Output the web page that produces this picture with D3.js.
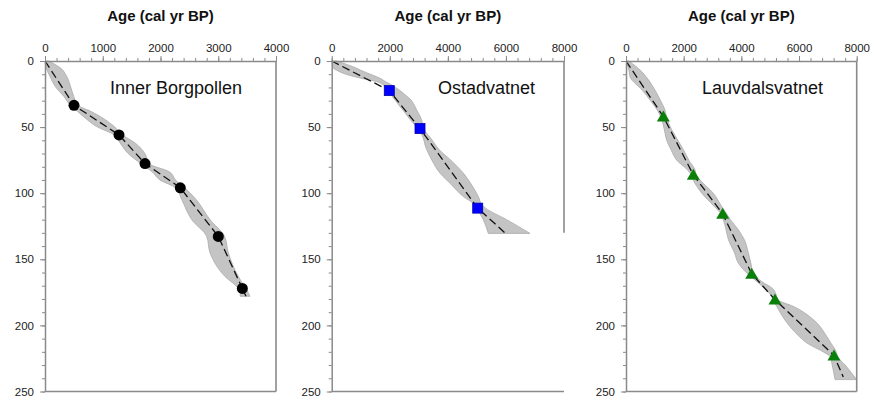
<!DOCTYPE html>
<html>
<head>
<meta charset="utf-8">
<script src="https://cdn.jsdelivr.net/npm/d3@7"></script>
<style>
  body { margin: 0; background: #fff; }
  svg { display: block; font-family: "Liberation Sans", Arial, sans-serif; }
</style>
</head>
<body>
<div id="chart"></div>
<script>
// ---- data ----
const siteNames = ["Inner Borgpollen", "Ostadvatnet", "Lauvdalsvatnet"];
const ageMaxes = [4000, 8000, 8000];
const ageTicks = [[0, 1000, 2000, 3000, 4000], [0, 2000, 4000, 6000, 8000], [0, 2000, 4000, 6000, 8000]];
const depthTicks = [0, 50, 100, 150, 200, 250];

// dated levels (markers)
const datedDepth = [
  [33.5, 55.9, 77.6, 95.9, 132.7, 172],
  [22.4, 51.1, 111.3],
  [42, 86.1, 115.6, 160.9, 180.5, 222.8]
];
const datedAge = [
  [502, 1281, 1732, 2343, 3001, 3417],
  [1983, 3041, 5028],
  [1294, 2334, 3352, 4358, 5166, 7212]
];

// age-depth model (dashed line)
const modelDepth = [
  [0, 33.5, 55.9, 77.6, 95.9, 132.7, 172, 178],
  [0, 22.4, 51.1, 111.3, 130],
  [0, 42, 86.1, 115.6, 160.9, 180.5, 222.8, 239]
];
const modelAge = [
  [0, 502, 1281, 1732, 2343, 3001, 3417, 3480],
  [0, 1983, 3041, 5028, 5968],
  [0, 1294, 2334, 3352, 4358, 5166, 7212, 7535]
];

// uncertainty envelope (depth, min age, max age)
const envDepth = [
  [0, 5, 12, 19, 27, 33.5, 38, 44, 49.6, 55.9, 62, 70, 77.6, 84, 90, 95.9, 105, 120, 132.7, 145, 163, 171.7, 176, 178],
  [0, 5.5, 7, 10.6, 13, 15.6, 18.1, 20, 22.4, 24.4, 30, 34.5, 37, 42, 47.1, 50, 52, 58, 64.7, 67, 75, 84.8, 93, 102.5, 108.8, 111.3, 120, 130.4],
  [0, 8, 12, 22, 30, 37, 42, 52, 60, 67, 75, 82.3, 86.1, 90, 100, 110, 115.6, 120, 127.6, 135, 145, 152.8, 160.3, 166.7, 172, 178, 180.5, 185.6, 195.6, 208.2, 213.2, 220.8, 223.3, 230, 241]
];
const envMin = [
  [0, 20, 90, 173, 330, 440, 560, 720, 895, 1200, 1300, 1440, 1660, 1860, 1991, 2260, 2370, 2540, 2800, 2857, 3117, 3340, 3380, 3380],
  [0, 60, 172, 571, 1000, 1549, 1780, 1893, 1950, 2007, 2200, 2352, 2450, 2620, 2810, 2930, 3000, 3150, 3230, 3271, 3450, 3729, 4100, 4532, 4935, 5000, 5220, 5393],
  [0, 110, 139, 560, 850, 1080, 1200, 1330, 1411, 1560, 1758, 2130, 2260, 2330, 2630, 3060, 3300, 3375, 3470, 3549, 3760, 3895, 4185, 4532, 4800, 5050, 5100, 5225, 5500, 6000, 6265, 6900, 7073, 7150, 7247]
];
const envMax = [
  [60, 260, 380, 440, 500, 570, 790, 1030, 1200, 1340, 1560, 1730, 1800, 2160, 2260, 2420, 2620, 2857, 3110, 3174, 3348, 3470, 3530, 3550],
  [172, 861, 1000, 1400, 1663, 1850, 2066, 2200, 2350, 2466, 2750, 2870, 2925, 3050, 3130, 3170, 3190, 3400, 3616, 3700, 4100, 4532, 4800, 5050, 5180, 5300, 6026, 6829],
  [100, 544, 700, 1005, 1200, 1352, 1400, 1584, 1800, 1987, 2180, 2393, 2430, 2566, 3027, 3318, 3491, 3620, 3895, 4100, 4241, 4330, 4420, 4700, 5080, 5225, 5260, 5802, 6496, 6958, 7100, 7304, 7330, 7600, 8000]
];

// ---- layout ----
const width = 874, height = 402;
const plotTop = 61, plotBottom = 391.5;
const panelLeft = [45, 331.7, 626];
const panelRight = [276, 564, 856.7];
const labelX = [110, 438, 702];
const rightFrameDepth = [250, 130, 250];

const svg = d3.select("#chart").append("svg")
  .attr("width", width)
  .attr("height", height);

const axisGrey = "#8a8a8a";

siteNames.forEach((name, p) => {
  const x = d3.scaleLinear().domain([0, ageMaxes[p]]).range([panelLeft[p], panelRight[p]]);
  const y = d3.scaleLinear().domain([0, 250]).range([plotTop, plotBottom]);
  const g = svg.append("g");

  // envelope
  const env = envDepth[p].map((d, i) => ({ d: d, lo: envMin[p][i], hi: envMax[p][i] }));
  g.append("path")
    .datum(env)
    .attr("d", d3.area()
      .curve(d3.curveMonotoneY)
      .y(d => y(d.d))
      .x0(d => x(d.lo))
      .x1(d => x(d.hi)))
    .attr("fill", "#c4c4c4")
    .attr("stroke", "#ababab")
    .attr("stroke-width", 0.8);

  // model line
  const model = modelDepth[p].map((d, i) => ({ d: d, a: modelAge[p][i] }));
  g.append("path")
    .datum(model)
    .attr("d", d3.line().x(d => x(d.a)).y(d => y(d.d)))
    .attr("fill", "none")
    .attr("stroke", "#111")
    .attr("stroke-width", 1.3)
    .attr("stroke-dasharray", "8,4");

  // frame (right & bottom)
  g.append("line")
    .attr("x1", x(ageMaxes[p])).attr("x2", x(ageMaxes[p]))
    .attr("y1", y(0)).attr("y2", y(rightFrameDepth[p]))
    .attr("stroke", axisGrey).attr("stroke-width", 1.6);
  g.append("line")
    .attr("x1", x(0)).attr("x2", x(ageMaxes[p]))
    .attr("y1", y(250)).attr("y2", y(250))
    .attr("stroke", axisGrey).attr("stroke-width", 1.6);

  // minor ticks
  const step = ageTicks[p][1] / 5;
  g.append("g")
    .attr("transform", "translate(0," + plotTop + ")")
    .call(d3.axisTop(x).tickValues(d3.range(0, ageMaxes[p] + 1, step)).tickSize(3).tickFormat(""))
    .call(a => a.select(".domain").remove())
    .selectAll("line").attr("stroke", axisGrey);
  g.append("g")
    .attr("transform", "translate(" + panelLeft[p] + ",0)")
    .call(d3.axisLeft(y).tickValues(d3.range(0, 251, 10)).tickSize(3).tickFormat(""))
    .call(a => a.select(".domain").remove())
    .selectAll("line").attr("stroke", axisGrey);

  // major axes
  const xa = g.append("g")
    .attr("transform", "translate(0," + plotTop + ")")
    .call(d3.axisTop(x).tickValues(ageTicks[p]).tickFormat(d3.format("d"))
      .tickSize(5).tickSizeOuter(0).tickPadding(4));
  const ya = g.append("g")
    .attr("transform", "translate(" + panelLeft[p] + ",0)")
    .call(d3.axisLeft(y).tickValues(depthTicks).tickFormat(d3.format("d"))
      .tickSize(5).tickSizeOuter(0).tickPadding(6));
  [xa, ya].forEach(a => {
    a.select(".domain").attr("stroke", axisGrey).attr("stroke-width", 1.5);
    a.selectAll(".tick line").attr("stroke", axisGrey);
    a.selectAll(".tick text")
      .attr("fill", "#222")
      .style("font-size", "11.5px")
      .style("font-family", "Liberation Sans, Arial, sans-serif");
  });

  // markers
  const pts = datedDepth[p].map((d, i) => ({ d: d, a: datedAge[p][i] }));
  if (p === 0) {
    g.selectAll("circle.pt").data(pts).enter().append("circle")
      .attr("cx", d => x(d.a)).attr("cy", d => y(d.d))
      .attr("r", 5.5).attr("fill", "#000");
  } else if (p === 1) {
    g.selectAll("rect.pt").data(pts).enter().append("rect")
      .attr("x", d => x(d.a) - 5).attr("y", d => y(d.d) - 5)
      .attr("width", 10).attr("height", 10)
      .attr("fill", "#0000ff").attr("stroke", "#0000b0").attr("stroke-width", 0.8);
  } else {
    g.selectAll("path.pt").data(pts).enter().append("path")
      .attr("d", d => {
        const cx = x(d.a), cy = y(d.d);
        return "M" + (cx - 6.5) + "," + (cy + 5) + "L" + (cx + 6.5) + "," + (cy + 5) + "L" + cx + "," + (cy - 6) + "Z";
      })
      .attr("fill", "#0a800a");
  }

  // titles
  svg.append("text")
    .attr("x", (panelLeft[p] + panelRight[p]) / 2)
    .attr("y", 21)
    .attr("text-anchor", "middle")
    .style("font-size", "15px")
    .style("font-weight", "bold")
    .attr("fill", "#111")
    .text("Age (cal yr BP)");

  svg.append("text")
    .attr("x", labelX[p])
    .attr("y", 94)
    .style("font-size", "18px")
    .attr("fill", "#111")
    .text(name);
});
</script>
</body>
</html>
